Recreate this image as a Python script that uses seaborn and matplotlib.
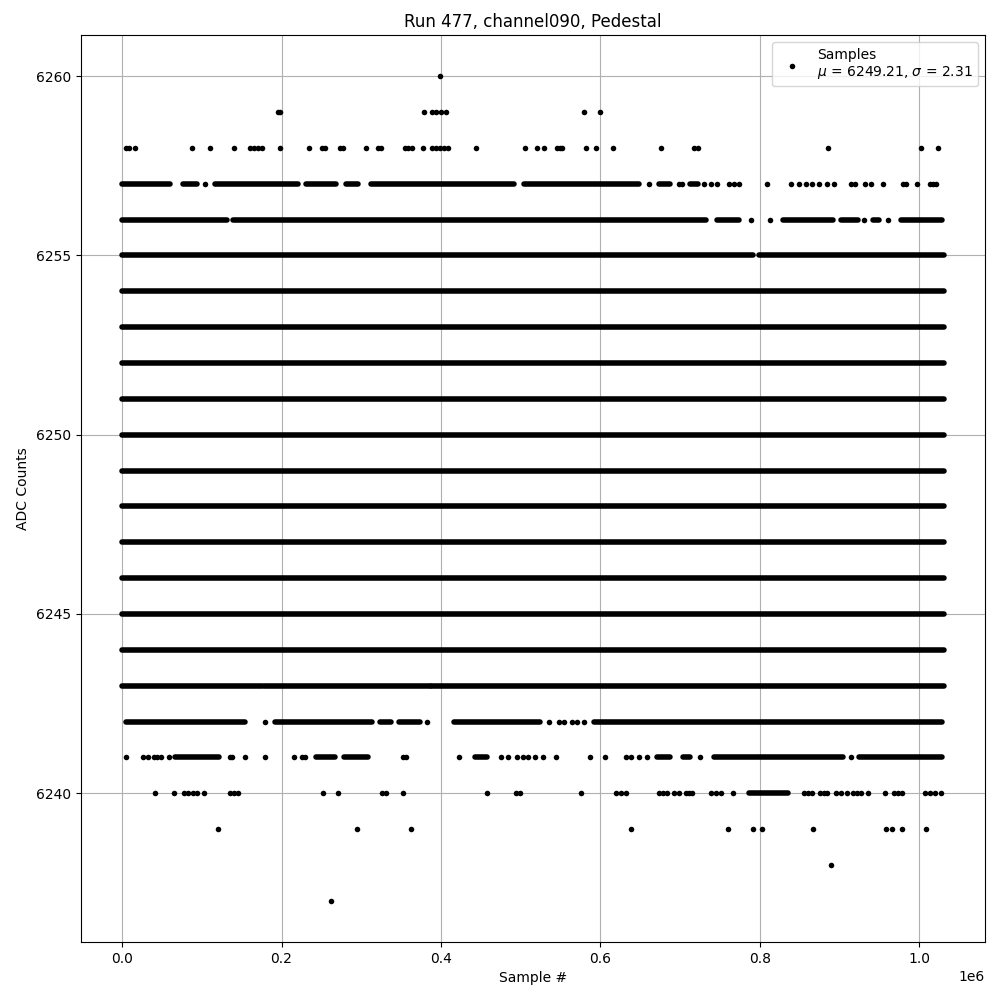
import matplotlib
matplotlib.use("Agg")
import pandas as pd
import seaborn as sns
import matplotlib.pyplot as plt

# sample positions (units of 1e6 samples) of isolated samples per ADC level
pts_6260 = [0.399]
pts_6259 = [0.195, 0.1975, 0.379, 0.389, 0.394, 0.400, 0.406, 0.579, 0.600]
pts_6258 = [0.005, 0.009, 0.016, 0.0875, 0.110, 0.140, 0.161, 0.166, 0.171, 0.176,
            0.1975, 0.235, 0.251, 0.255, 0.274, 0.2775, 0.306, 0.321, 0.325, 0.355,
            0.359, 0.364, 0.3775, 0.389, 0.394, 0.399, 0.404, 0.409, 0.444, 0.506,
            0.520, 0.529, 0.545, 0.549, 0.5525, 0.5825, 0.594, 0.616, 0.676, 0.7175,
            0.7225, 0.886, 1.0025, 1.024]
pts_6257 = [0.104, 0.661, 0.699, 0.7025, 0.730, 0.739, 0.746, 0.761, 0.7675, 0.774,
            0.809, 0.839, 0.849, 0.8575, 0.865, 0.874, 0.884, 0.8925, 0.914, 0.920,
            0.9325, 0.940, 0.955, 0.980, 0.984, 0.9975, 1.014, 1.0175, 1.021]
pts_6256 = [0.789, 0.8125, 0.931, 0.961]
pts_6242 = [0.179, 0.3825, 0.536, 0.5475, 0.555, 0.565, 0.571, 0.579]
pts_6241 = [0.005, 0.026, 0.032, 0.040, 0.044, 0.049, 0.059, 0.135, 0.1375, 0.154,
            0.179, 0.216, 0.226, 0.230, 0.3525, 0.356, 0.4225, 0.475, 0.484, 0.495,
            0.5025, 0.509, 0.5175, 0.5275, 0.544, 0.5875, 0.606, 0.6325, 0.639, 0.649,
            0.659, 0.725, 0.915]
pts_6240 = [0.041, 0.065, 0.0775, 0.0825, 0.089, 0.094, 0.1025, 0.136, 0.141, 0.146,
            0.2525, 0.271, 0.326, 0.331, 0.3525, 0.4575, 0.494, 0.499, 0.576, 0.620,
            0.626, 0.6325, 0.674, 0.679, 0.684, 0.6925, 0.699, 0.7075, 0.711, 0.715,
            0.739, 0.745, 0.751, 0.766, 0.855, 0.860, 0.865, 0.876, 0.880, 0.884,
            0.896, 0.9025, 0.909, 0.9175, 0.9225, 0.9275, 0.936, 0.9575, 0.969, 0.974,
            0.979, 1.0075, 1.014, 1.020, 1.0275]
pts_6239 = [0.1205, 0.295, 0.362, 0.638, 0.7605, 0.7915, 0.803, 0.867, 0.958, 0.966,
            0.978, 1.0085]
pts_6238 = [0.889]
pts_6237 = [0.2615]

# stretches (start, end) where the samples overlap into a solid band
runs_6257 = [(0.0, 0.060), (0.077, 0.094), (0.116, 0.221), (0.231, 0.268),
             (0.2805, 0.296), (0.312, 0.492), (0.504, 0.649), (0.673, 0.687),
             (0.712, 0.723)]
runs_6256 = [(0.0, 0.131), (0.139, 0.733), (0.746, 0.774), (0.829, 0.892),
             (0.902, 0.923), (0.942, 0.949), (0.977, 1.028)]
runs_6255 = [(0.0, 0.792), (0.799, 1.031)]
runs_full = [(0.0, 1.031)]
full_levels = [6244, 6245, 6246, 6247, 6248, 6249, 6250, 6251, 6252, 6253, 6254]
runs_6243 = [(0.0, 0.176), (0.178, 0.386), (0.388, 1.031)]
runs_6242 = [(0.0044, 0.154), (0.192, 0.314), (0.323, 0.337), (0.347, 0.374),
             (0.417, 0.524), (0.592, 1.029)]
runs_6241 = [(0.067, 0.121), (0.243, 0.2675), (0.279, 0.308), (0.443, 0.458),
             (0.671, 0.6875), (0.704, 0.712), (0.742, 0.904), (0.924, 1.029)]
runs_6240 = [(0.786, 0.836)]

mu = 6249.21
sigma = 2.31

pts_by_level = [(6260, pts_6260), (6259, pts_6259), (6258, pts_6258), (6257, pts_6257),
                (6256, pts_6256), (6242, pts_6242), (6241, pts_6241), (6240, pts_6240),
                (6239, pts_6239), (6238, pts_6238), (6237, pts_6237)]
runs_by_level = [(6257, runs_6257), (6256, runs_6256), (6255, runs_6255),
                 (6243, runs_6243), (6242, runs_6242), (6241, runs_6241),
                 (6240, runs_6240)] + [(lv, runs_full) for lv in full_levels]

points = pd.DataFrame([(x * 1e6, lv) for lv, xs in pts_by_level for x in xs],
                      columns=["sample", "adc"])
runs = pd.DataFrame([(a * 1e6, b * 1e6, lv) for lv, rs in runs_by_level for a, b in rs],
                    columns=["start", "end", "adc"])

fig, ax = plt.subplots(figsize=(10, 10), dpi=100)
fig.subplots_adjust(left=0.081, right=0.985, top=0.965, bottom=0.058)

ax.hlines(runs["adc"], runs["start"], runs["end"], colors="black",
          linewidth=4, capstyle="round", zorder=2)
sns.scatterplot(data=points, x="sample", y="adc", color="black", s=16, linewidth=0,
                label="Samples\n$\\mu$ = %.2f, $\\sigma$ = %.2f" % (mu, sigma),
                ax=ax, zorder=3)

ax.ticklabel_format(axis="y", useOffset=False)
ax.set_xticks([0, 200000, 400000, 600000, 800000, 1000000])
ax.grid(True)
ax.set_title("Run 477, channel090, Pedestal")
ax.set_xlabel("Sample #")
ax.set_ylabel("ADC Counts")
ax.legend(loc="upper right")

fig.savefig("out.png", dpi=100)
